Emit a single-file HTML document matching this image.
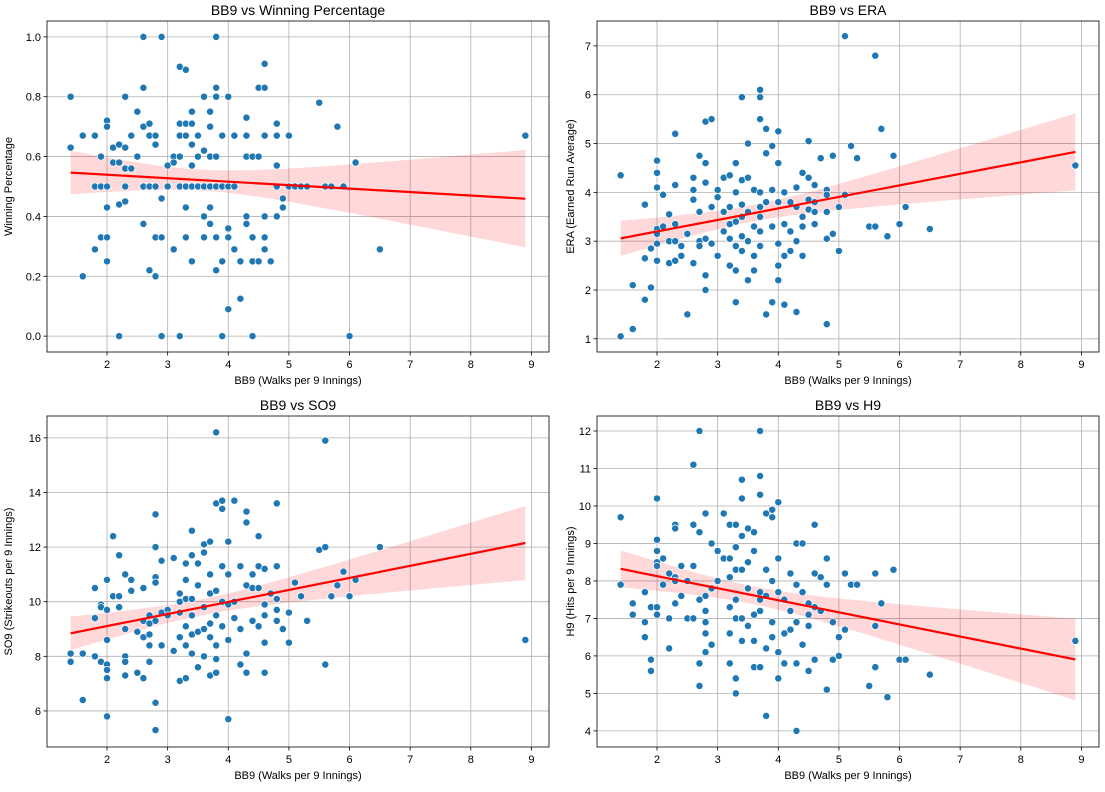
<!DOCTYPE html>
<html><head><meta charset="utf-8">
<style>
body{margin:0;background:#fff;}
svg text{font-family:"Liberation Sans","DejaVu Sans",sans-serif;fill:#000;}
</style></head>
<body>
<svg id="fig" width="1105" height="787" xmlns="http://www.w3.org/2000/svg"></svg>
<script>
// ---- data ----
const winX=[1.4,1.4,1.6,1.6,1.8,1.8,1.8,1.9,1.9,1.9,2.0,2.0,2.0,2.0,2.0,2.0,2.1,2.1,2.2,2.2,2.2,2.2,2.3,2.3,2.3,2.3,2.3,2.4,2.4,2.5,2.5,2.6,2.6,2.6,2.6,2.6,2.7,2.7,2.7,2.7,2.8,2.8,2.8,2.8,2.8,2.9,2.9,2.9,2.9,3.0,3.0,3.1,3.1,3.1,3.2,3.2,3.2,3.2,3.2,3.2,3.3,3.3,3.3,3.3,3.3,3.3,3.4,3.4,3.4,3.4,3.4,3.4,3.5,3.5,3.5,3.6,3.6,3.6,3.6,3.6,3.7,3.7,3.7,3.7,3.7,3.7,3.8,3.8,3.8,3.8,3.8,3.8,3.8,3.9,3.9,3.9,3.9,4.0,4.0,4.0,4.0,4.0,4.1,4.1,4.1,4.2,4.2,4.3,4.3,4.3,4.3,4.3,4.4,4.4,4.4,4.4,4.5,4.5,4.5,4.6,4.6,4.6,4.6,4.6,4.6,4.7,4.8,4.8,4.8,4.8,4.8,4.9,4.9,5.0,5.0,5.1,5.2,5.3,5.5,5.6,5.7,5.8,5.9,6.0,6.1,6.5,8.9];
const winY=[0.8,0.63,0.67,0.2,0.67,0.5,0.29,0.6,0.5,0.33,0.72,0.7,0.5,0.43,0.33,0.25,0.58,0.63,0.58,0.64,0.44,0,0.8,0.56,0.5,0.45,0.63,0.67,0.56,0.75,0.6,1.0,0.83,0.7,0.5,0.375,0.71,0.5,0.67,0.22,0.67,0.2,0.33,0.5,0.64,1.0,0.46,0.33,0,0.57,0.5,0.6,0.58,0.29,0.9,0.71,0.67,0.6,0.5,0,0.89,0.71,0.67,0.5,0.43,0.33,0.75,0.71,0.64,0.57,0.5,0.25,0.67,0.6,0.5,0.8,0.62,0.5,0.4,0.33,0.75,0.7,0.6,0.5,0.43,0.375,1.0,0.83,0.8,0.6,0.5,0.33,0.22,0.67,0.5,0.25,0,0.8,0.5,0.36,0.09,0.33,0.67,0.5,0.29,0.125,0.25,0.73,0.67,0.6,0.4,0.375,0.6,0.33,0.25,0,0.83,0.6,0.25,0.91,0.83,0.67,0.4,0.33,0.29,0.25,0.71,0.67,0.57,0.5,0.4,0.46,0.43,0.67,0.5,0.5,0.5,0.5,0.78,0.5,0.5,0.7,0.5,0,0.58,0.29,0.67];
const eraX=[1.4,1.4,1.6,1.6,1.8,1.8,1.8,1.9,1.9,2.0,2.0,2.0,2.0,2.0,2.0,2.0,2.1,2.1,2.2,2.2,2.2,2.3,2.3,2.3,2.3,2.3,2.4,2.4,2.5,2.5,2.6,2.6,2.6,2.6,2.7,2.7,2.7,2.7,2.8,2.8,2.8,2.8,2.8,2.8,2.9,2.9,2.9,3.0,3.0,3.0,3.1,3.1,3.1,3.2,3.2,3.2,3.2,3.2,3.3,3.3,3.3,3.3,3.3,3.3,3.4,3.4,3.4,3.4,3.4,3.4,3.5,3.5,3.5,3.5,3.5,3.6,3.6,3.6,3.6,3.7,3.7,3.7,3.7,3.7,3.7,3.7,3.7,3.8,3.8,3.8,3.8,3.9,3.9,3.9,3.9,4.0,4.0,4.0,4.0,4.0,4.0,4.1,4.1,4.1,4.1,4.2,4.2,4.2,4.3,4.3,4.3,4.3,4.4,4.4,4.4,4.4,4.5,4.5,4.5,4.5,4.6,4.6,4.6,4.6,4.7,4.8,4.8,4.8,4.8,4.8,4.9,4.9,5.0,5.0,5.1,5.1,5.2,5.3,5.5,5.6,5.6,5.7,5.8,5.9,6.0,6.1,6.5,8.9];
const eraY=[4.35,1.05,2.1,1.2,3.75,2.65,1.8,2.05,2.85,4.65,4.4,4.1,3.25,3.15,2.95,2.6,3.3,3.95,3.55,3.0,2.55,5.2,4.15,3.35,3.0,2.6,2.7,2.9,1.5,3.15,4.3,4.05,3.85,2.55,4.75,3.0,2.9,3.6,5.45,4.6,4.2,3.05,2.3,2.0,5.5,3.7,2.95,4.05,3.9,2.7,4.3,3.6,3.2,4.35,3.7,3.35,3.05,2.5,4.6,4.0,3.4,2.9,2.4,1.75,5.95,4.25,3.75,3.5,3.1,2.8,5.0,4.3,3.6,3.0,2.2,4.05,3.3,2.4,2.7,6.1,5.95,5.5,4.0,3.7,3.5,3.2,2.9,5.3,4.8,3.8,1.5,4.95,4.05,3.3,1.75,5.25,4.6,3.8,2.95,2.5,2.2,1.7,4.0,3.35,2.7,3.8,3.2,2.8,4.1,3.7,3.0,1.55,4.4,3.5,3.3,2.7,5.05,4.3,3.85,3.65,4.15,3.8,3.6,3.35,4.7,4.05,3.95,3.6,3.05,1.3,4.75,3.15,3.7,2.8,7.2,3.95,4.95,4.7,3.3,6.8,3.3,5.3,3.1,4.75,3.35,3.7,3.25,4.55];
const soX=[1.4,1.4,1.6,1.6,1.8,1.8,1.8,1.9,1.9,1.9,2.0,2.0,2.0,2.0,2.0,2.0,2.0,2.1,2.1,2.2,2.2,2.2,2.3,2.3,2.3,2.3,2.3,2.4,2.4,2.5,2.5,2.6,2.6,2.6,2.6,2.7,2.7,2.7,2.7,2.7,2.8,2.8,2.8,2.8,2.8,2.8,2.8,2.9,2.9,2.9,3.0,3.0,3.1,3.1,3.2,3.2,3.2,3.2,3.2,3.3,3.3,3.3,3.3,3.3,3.3,3.4,3.4,3.4,3.4,3.4,3.4,3.5,3.5,3.5,3.5,3.6,3.6,3.6,3.6,3.6,3.7,3.7,3.7,3.7,3.7,3.7,3.8,3.8,3.8,3.8,3.8,3.8,3.8,3.9,3.9,3.9,3.9,3.9,4.0,4.0,4.0,4.0,4.0,4.1,4.1,4.1,4.2,4.2,4.2,4.3,4.3,4.3,4.3,4.3,4.4,4.4,4.4,4.5,4.5,4.5,4.5,4.6,4.6,4.6,4.6,4.6,4.7,4.8,4.8,4.8,4.8,4.8,4.9,5.0,5.0,5.1,5.2,5.3,5.5,5.6,5.6,5.6,5.7,5.8,5.9,6.0,6.1,6.5,8.9];
const soY=[8.1,7.8,6.4,8.1,10.5,9.4,8.0,9.9,9.8,7.8,10.8,9.7,8.6,7.7,7.5,7.2,5.8,12.4,10.2,11.7,10.2,9.8,11.0,8.0,7.8,7.3,9.0,10.8,10.4,8.9,7.4,10.5,9.3,8.7,7.2,9.5,9.2,8.8,8.4,7.8,13.2,12.0,10.9,10.7,9.3,6.3,5.3,11.5,9.6,8.4,9.7,9.5,11.6,8.2,10.3,10.0,9.6,8.7,7.1,11.4,10.8,10.1,9.1,8.4,7.2,12.6,11.7,10.1,9.5,8.8,8.1,11.4,10.6,8.9,7.6,12.1,11.8,9.8,9.0,8.0,12.2,11.0,10.3,9.2,8.7,7.3,16.2,13.6,10.4,9.5,8.4,7.9,7.4,13.7,13.4,11.3,10.0,9.1,12.2,11.0,9.9,8.6,5.7,13.7,10.0,9.4,11.3,9.0,7.7,13.3,12.9,10.6,8.1,7.4,11.0,10.5,9.3,12.4,11.3,9.1,10.5,11.2,9.9,9.5,8.5,7.4,10.3,13.6,11.3,10.1,9.7,9.3,9.0,9.6,8.5,10.7,10.2,9.3,11.9,15.9,12.0,7.7,10.2,10.6,11.1,10.2,10.8,12.0,8.6];
const hX=[1.4,1.4,1.6,1.6,1.8,1.8,1.8,1.9,1.9,1.9,2.0,2.0,2.0,2.0,2.0,2.0,2.0,2.1,2.1,2.2,2.2,2.2,2.3,2.3,2.3,2.3,2.3,2.4,2.4,2.5,2.5,2.6,2.6,2.6,2.6,2.7,2.7,2.7,2.7,2.7,2.8,2.8,2.8,2.8,2.8,2.8,2.9,2.9,2.9,3.0,3.0,3.1,3.1,3.2,3.2,3.2,3.2,3.2,3.2,3.3,3.3,3.3,3.3,3.3,3.3,3.3,3.4,3.4,3.4,3.4,3.4,3.4,3.5,3.5,3.5,3.5,3.6,3.6,3.6,3.6,3.6,3.7,3.7,3.7,3.7,3.7,3.7,3.7,3.8,3.8,3.8,3.8,3.8,3.9,3.9,3.9,3.9,3.9,4.0,4.0,4.0,4.0,4.0,4.1,4.1,4.1,4.2,4.2,4.2,4.3,4.3,4.3,4.3,4.3,4.4,4.4,4.4,4.5,4.5,4.5,4.5,4.6,4.6,4.6,4.6,4.7,4.7,4.8,4.8,4.8,4.9,4.9,5.0,5.0,5.1,5.1,5.2,5.3,5.5,5.6,5.6,5.6,5.7,5.8,5.9,6.0,6.1,6.5,8.9];
const hY=[9.7,7.9,7.4,7.1,7.7,6.9,6.5,5.9,5.6,7.3,10.2,9.1,8.8,8.5,8.4,7.3,7.1,8.6,7.9,8.2,7.0,6.2,9.5,9.4,8.1,7.4,8.0,8.4,7.6,8.0,7.0,11.1,9.5,8.4,7.0,12.0,9.3,7.5,5.8,5.2,9.8,7.6,7.2,6.9,6.6,6.1,9.0,7.8,6.3,8.8,8.0,9.8,8.6,9.5,8.6,8.1,7.3,6.6,5.8,9.5,8.9,8.3,7.5,7.0,5.4,5.0,10.7,10.2,9.2,8.3,7.0,6.4,9.4,8.5,7.8,6.8,9.3,8.8,7.1,6.4,5.7,12.0,10.8,10.3,7.7,7.5,7.2,5.7,9.8,8.3,7.6,6.2,4.4,9.9,9.7,8.0,6.9,6.5,10.1,8.6,7.7,6.1,5.4,7.5,6.6,5.8,8.2,7.2,6.7,9.0,7.9,6.9,5.8,4.0,9.0,7.7,6.3,7.4,7.1,6.8,5.6,9.5,8.2,7.3,5.9,8.1,7.2,8.6,7.9,5.1,6.9,5.9,6.5,6.0,8.2,6.7,7.9,7.9,5.2,8.2,5.7,6.8,7.4,4.9,8.3,5.9,5.9,5.5,6.4];
const xTicks=[2,3,4,5,6,7,8,9];
const winTicks=[0.0,0.2,0.4,0.6,0.8,1.0];
const eraTicks=[1,2,3,4,5,6,7];
const soTicks=[6,8,10,12,14,16];
const hTicks=[4,5,6,7,8,9,10,11,12];

const NS="http://www.w3.org/2000/svg";
const fig=document.getElementById('fig');
function mk(tag,attrs,parent){const e=document.createElementNS(NS,tag);for(const k in attrs)e.setAttribute(k,attrs[k]);(parent||fig).appendChild(e);return e;}

const panels=[
 {name:'winning-percentage',title:'BB9 vs Winning Percentage',ylab:'Winning Percentage',xs:winX,ys:winY,yt:winTicks,L:47,T:21,y0:-0.053,y1:1.053,dec:1,ylx:12},
 {name:'era',title:'BB9 vs ERA',ylab:'ERA (Earned Run Average)',xs:eraX,ys:eraY,yt:eraTicks,L:597,T:21,y0:0.73,y1:7.51,dec:0,ylx:574},
 {name:'so9',title:'BB9 vs SO9',ylab:'SO9 (Strikeouts per 9 Innings)',xs:soX,ys:soY,yt:soTicks,L:47,T:416,y0:4.68,y1:16.8,dec:0,ylx:12},
 {name:'h9',title:'BB9 vs H9',ylab:'H9 (Hits per 9 Innings)',xs:hX,ys:hY,yt:hTicks,L:597,T:416,y0:3.57,y1:12.4,dec:0,ylx:574}
];
const W=502,H=331,X0=1.01,X1=9.29;

panels.forEach(p=>{
 const g=mk('g',{});
 
 
 const sx=v=>p.L+(v-X0)/(X1-X0)*W;
 const sy=v=>p.T+H-(v-p.y0)/(p.y1-p.y0)*H;
 // grid
 xTicks.forEach(t=>{
  const l=mk('line',{x1:sx(t),x2:sx(t),y1:p.T,y2:p.T+H,stroke:'#b0b0b0','stroke-width':0.8},g);
  
  
  mk('line',{x1:sx(t),x2:sx(t),y1:p.T+H,y2:p.T+H+3.5,stroke:'#000','stroke-width':0.8},g);
  const tx=mk('text',{x:sx(t),y:p.T+H+16,'font-size':11,'text-anchor':'middle'},g);
  tx.textContent=t;
  
  
 });
 p.yt.forEach(t=>{
  const l=mk('line',{x1:p.L,x2:p.L+W,y1:sy(t),y2:sy(t),stroke:'#b0b0b0','stroke-width':0.8},g);
  
  
  mk('line',{x1:p.L-3.5,x2:p.L,y1:sy(t),y2:sy(t),stroke:'#000','stroke-width':0.8},g);
  const tx=mk('text',{x:p.L-6,y:sy(t)+4,'font-size':11,'text-anchor':'end'},g);
  tx.textContent=t.toFixed(p.dec);
  
  
 });
 // regression
 const n=p.xs.length;let mx=0,my=0;
 for(let i=0;i<n;i++){mx+=p.xs[i];my+=p.ys[i];}mx/=n;my/=n;
 let sxx=0,sxy=0;for(let i=0;i<n;i++){sxx+=(p.xs[i]-mx)**2;sxy+=(p.xs[i]-mx)*(p.ys[i]-my);}
 const b=sxy/sxx,a=my-b*mx;let sse=0;
 for(let i=0;i<n;i++)sse+=(p.ys[i]-a-b*p.xs[i])**2;
 const s=Math.sqrt(sse/(n-2));
 const xmin=Math.min(...p.xs),xmax=Math.max(...p.xs);
 const up=[],lo=[];
 for(let k=0;k<=60;k++){const x=xmin+(xmax-xmin)*k/60;const se=s*Math.sqrt(1/n+(x-mx)**2/sxx);const yh=a+b*x;
  up.push(sx(x)+','+sy(yh+1.976*se));lo.unshift(sx(x)+','+sy(yh-1.976*se));}
 const band=mk('polygon',{points:up.concat(lo).join(' '),fill:'rgba(255,0,0,0.15)'},g);
 
 
 // points
 for(let i=0;i<n;i++){
  const c=mk('circle',{cx:sx(p.xs[i]),cy:sy(p.ys[i]),r:3.6,fill:'#1f77b4',stroke:'#fff','stroke-width':0.7},g);
  
  
 }
 const rl=mk('line',{x1:sx(xmin),y1:sy(a+b*xmin),x2:sx(xmax),y2:sy(a+b*xmax),stroke:'#ff0000','stroke-width':2.2},g);
 
 
 const fr=mk('rect',{x:p.L,y:p.T,width:W,height:H,fill:'none',stroke:'#000','stroke-width':0.8},g);
 
 
 const ti=mk('text',{x:p.L+W/2,y:p.T-6,'font-size':14,'text-anchor':'middle'},g);
 ti.textContent=p.title;
 
 
 const xl=mk('text',{x:p.L+W/2,y:p.T+H+32,'font-size':11,'text-anchor':'middle'},g);
 xl.textContent='BB9 (Walks per 9 Innings)';
 
 
 const yc=p.T+H/2;
 const yl=mk('text',{x:p.ylx,y:yc,'font-size':11,'text-anchor':'middle',transform:`rotate(-90 ${p.ylx} ${yc})`},g);
 yl.textContent=p.ylab;
 
 
});
</script>
</body></html>
